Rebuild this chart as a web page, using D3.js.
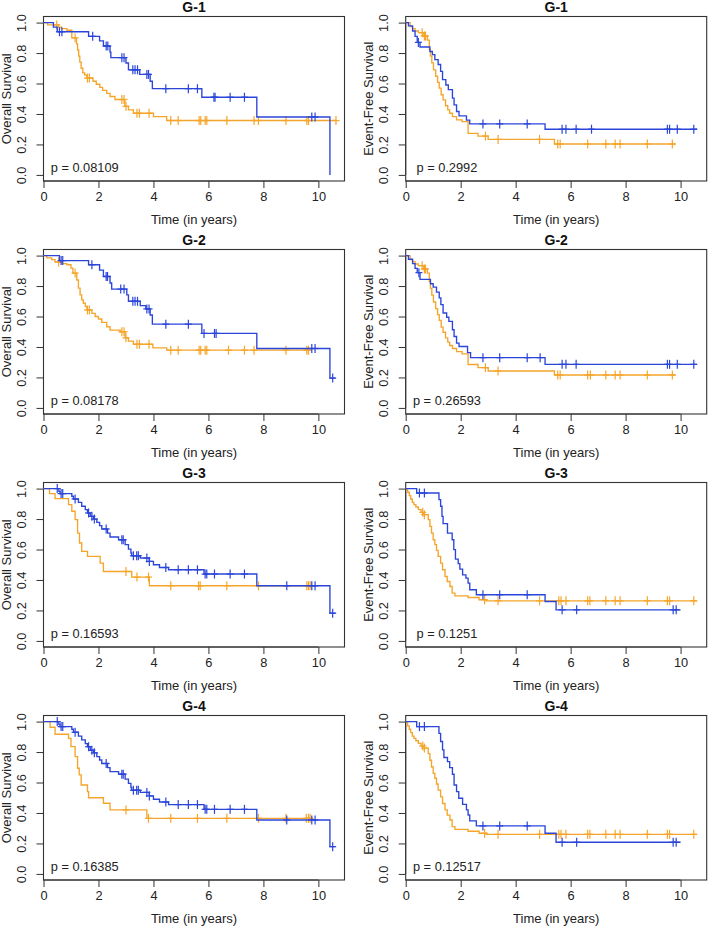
<!DOCTYPE html>
<html>
<head>
<meta charset="utf-8">
<script src="https://cdn.jsdelivr.net/npm/d3@7"></script>
<style>
  html, body { margin: 0; padding: 0; background: #ffffff; }
  svg { display: block; font-family: "Liberation Sans", Arial, Helvetica, sans-serif; }
</style>
</head>
<body>
<svg id="chart" width="708" height="927"></svg>
<script>
// ---------------- data ----------------
const panelTitles = ["G-1", "G-1", "G-2", "G-2", "G-3", "G-3", "G-4", "G-4"];
const yAxisTitles = ["Overall Survival", "Event-Free Survival"];
const xAxisTitle = "Time (in years)";
const pValues = ["0.08109", "0.2992", "0.08178", "0.26593", "0.16593", "0.1251", "0.16385", "0.12517"];
const xTicks = [0, 2, 4, 6, 8, 10];
const yTicks = [0.0, 0.2, 0.4, 0.6, 0.8, 1.0];

// step curves: [time, survival after the drop]; censor times; end time
const g1osBlue = [[0,1],[0.36,0.97],[0.5,0.94],[1.64,0.91],[2.04,0.88],[2.18,0.846],[2.42,0.806],[2.45,0.77],[3.0,0.735],[3.09,0.69],[3.5,0.66],[3.88,0.615],[3.96,0.566],[5.76,0.51],[7.76,0.38],[10.42,0.0]];
const g1osBlueCens = [0.58,0.67,1.79,2.28,2.34,2.85,2.93,3.25,3.33,3.42,3.76,3.82,4.45,5.27,5.6,6.2,6.24,6.79,7.31,9.76,9.88];
const g1osBlueEnd = 10.42;
const g1osOrange = [[0,1],[0.15,0.985],[0.55,0.97],[0.65,0.96],[0.85,0.95],[1.03,0.9],[1.2,0.86],[1.24,0.82],[1.28,0.78],[1.32,0.74],[1.37,0.70],[1.43,0.67],[1.5,0.655],[1.58,0.636],[1.8,0.615],[1.92,0.595],[2.05,0.575],[2.15,0.555],[2.3,0.535],[2.42,0.515],[2.6,0.495],[2.96,0.45],[3.09,0.427],[3.27,0.405],[4.0,0.383],[4.48,0.357]];
const g1osOrangeCens = [0.48,1.15,1.6,1.67,2.85,2.93,3.0,3.4,3.49,3.84,4.63,4.9,5.66,5.72,5.88,5.94,6.67,7.66,7.82,8.82,9.58,9.64,10.64];
const g1osOrangeEnd = 10.64;

const g1efsBlue = [[0,1],[0.1,0.978],[0.25,0.945],[0.34,0.91],[0.42,0.87],[0.52,0.84],[0.88,0.81],[0.97,0.79],[1.06,0.757],[1.18,0.725],[1.27,0.68],[1.34,0.626],[1.46,0.59],[1.55,0.56],[1.7,0.504],[1.76,0.46],[1.85,0.416],[1.94,0.388],[2.21,0.36],[2.33,0.335],[5.07,0.30]];
const g1efsBlueCens = [0.46,2.81,3.42,4.42,5.69,5.83,6.2,6.76,9.52,9.6,9.88,10.48];
const g1efsBlueEnd = 10.6;
const g1efsOrange = [[0,1],[0.16,0.974],[0.25,0.96],[0.34,0.945],[0.46,0.934],[0.66,0.912],[0.79,0.885],[0.86,0.824],[0.9,0.78],[0.95,0.736],[1.01,0.69],[1.09,0.648],[1.16,0.608],[1.22,0.57],[1.29,0.526],[1.36,0.493],[1.45,0.454],[1.53,0.427],[1.6,0.405],[1.7,0.383],[1.85,0.361],[2.05,0.35],[2.27,0.273],[2.63,0.255],[3.0,0.233],[5.41,0.203]];
const g1efsOrangeCens = [0.6,0.68,0.72,2.9,3.36,4.87,5.53,5.62,6.62,7.28,7.62,7.8,8.79,9.7];
const g1efsOrangeEnd = 9.82;

const g2osBlue = [[0,1],[0.58,0.967],[1.64,0.94],[2.04,0.905],[2.18,0.863],[2.42,0.82],[2.48,0.78],[3.03,0.742],[3.09,0.70],[3.52,0.672],[3.72,0.65],[3.88,0.61],[3.96,0.55],[5.76,0.489],[7.76,0.39],[10.42,0.196]];
const g2osBlueCens = [0.64,0.7,1.76,2.28,2.33,2.81,2.93,3.25,3.33,3.42,3.76,3.84,4.45,5.27,5.84,6.22,6.28,9.76,9.88,10.52];
const g2osBlueEnd = 10.62;
const g2osOrange = [[0,1],[0.12,0.985],[0.3,0.974],[0.42,0.958],[0.67,0.947],[0.85,0.94],[1.0,0.918],[1.07,0.885],[1.21,0.84],[1.27,0.786],[1.33,0.742],[1.39,0.709],[1.45,0.687],[1.52,0.665],[1.58,0.643],[1.76,0.621],[1.88,0.6],[2.0,0.584],[2.12,0.562],[2.3,0.533],[2.42,0.511],[2.79,0.5],[2.97,0.46],[3.09,0.438],[3.27,0.418],[3.98,0.394],[4.48,0.379]];
const g2osOrangeCens = [0.55,1.15,1.6,1.67,2.85,2.93,3.0,3.4,3.49,3.84,4.63,4.9,5.66,5.72,5.88,5.94,6.73,7.31,7.66,8.82,9.58,9.64];
const g2osOrangeEnd = 9.7;

const g2efsBlue = [[0,1],[0.1,0.976],[0.25,0.947],[0.34,0.916],[0.42,0.888],[0.52,0.844],[0.9,0.815],[1.0,0.793],[1.12,0.76],[1.22,0.722],[1.28,0.678],[1.36,0.623],[1.49,0.595],[1.57,0.568],[1.7,0.513],[1.76,0.469],[1.85,0.425],[1.94,0.403],[2.25,0.363],[2.36,0.33],[5.07,0.286]];
const g2efsBlueCens = [0.48,2.81,3.42,4.42,4.89,5.69,5.83,6.2,9.52,9.6,9.88,10.48];
const g2efsBlueEnd = 10.6;
const g2efsOrange = [[0,1],[0.16,0.974],[0.25,0.96],[0.34,0.945],[0.46,0.934],[0.66,0.912],[0.79,0.885],[0.86,0.83],[0.9,0.785],[0.95,0.74],[1.01,0.695],[1.09,0.652],[1.16,0.612],[1.22,0.575],[1.29,0.53],[1.36,0.497],[1.45,0.46],[1.53,0.432],[1.6,0.41],[1.7,0.39],[1.85,0.37],[2.05,0.355],[2.27,0.285],[2.63,0.264],[3.0,0.242],[5.41,0.216]];
const g2efsOrangeCens = [0.6,0.68,0.72,2.9,3.36,5.53,5.62,6.62,6.72,7.28,7.62,7.8,8.79,9.7];
const g2efsOrangeEnd = 9.82;

const g3osBlue = [[0,1],[0.56,0.982],[0.6,0.967],[1.03,0.95],[1.09,0.932],[1.27,0.91],[1.39,0.884],[1.52,0.862],[1.6,0.84],[1.7,0.818],[1.82,0.8],[1.94,0.778],[2.04,0.757],[2.12,0.735],[2.33,0.708],[2.42,0.682],[2.73,0.664],[2.97,0.632],[3.09,0.603],[3.18,0.577],[3.21,0.559],[3.52,0.544],[3.85,0.522],[4.0,0.5],[4.22,0.482],[4.55,0.467],[5.84,0.439],[7.76,0.362],[10.42,0.182]];
const g3osBlueCens = [0.5,0.64,0.7,1.15,1.64,1.76,1.85,2.28,2.85,2.9,3.27,3.39,3.45,3.76,3.85,4.45,4.9,5.27,5.6,5.88,5.94,6.22,6.79,7.31,8.85,9.76,9.88,10.52];
const g3osBlueEnd = 10.62;
const g3osOrange = [[0,1],[0.22,0.967],[0.42,0.934],[0.91,0.895],[1.03,0.851],[1.15,0.796],[1.24,0.708],[1.31,0.643],[1.39,0.588],[1.6,0.555],[2.06,0.511],[2.18,0.456],[3.21,0.419],[3.85,0.362]];
const g3osOrangeCens = [3.0,3.4,3.82,4.63,5.64,5.7,6.67,7.82,9.58,9.64,9.7];
const g3osOrangeEnd = 9.7;

const g3efsBlue = [[0,1],[0.4,0.971],[1.21,0.928],[1.27,0.884],[1.32,0.818],[1.36,0.77],[1.52,0.708],[1.69,0.664],[1.75,0.599],[1.81,0.537],[1.91,0.507],[1.97,0.471],[2.07,0.434],[2.19,0.412],[2.27,0.379],[2.33,0.336],[2.57,0.303],[5.07,0.259],[5.47,0.204]];
const g3efsBlueCens = [0.5,0.68,2.81,3.42,4.42,5.69,6.22,9.73,9.84];
const g3efsBlueEnd = 10.0;
const g3efsOrange = [[0,1],[0.07,0.976],[0.13,0.954],[0.18,0.932],[0.24,0.91],[0.3,0.895],[0.37,0.879],[0.46,0.862],[0.56,0.844],[0.64,0.829],[0.82,0.796],[0.88,0.752],[0.94,0.708],[1.0,0.664],[1.06,0.632],[1.12,0.594],[1.18,0.555],[1.27,0.511],[1.34,0.467],[1.43,0.423],[1.51,0.39],[1.61,0.357],[1.69,0.314],[1.79,0.296],[2.27,0.285],[2.67,0.27],[2.93,0.263]];
const g3efsOrangeCens = [0.62,0.68,2.87,3.36,4.87,5.57,5.65,5.83,6.62,6.7,7.28,7.62,7.8,8.79,9.52,9.6,10.48];
const g3efsOrangeEnd = 10.6;

const g4osBlue = [[0,1],[0.56,0.982],[0.6,0.967],[1.03,0.95],[1.09,0.93],[1.27,0.905],[1.39,0.88],[1.52,0.855],[1.6,0.835],[1.7,0.812],[1.82,0.795],[1.94,0.77],[2.04,0.748],[2.12,0.725],[2.33,0.698],[2.42,0.672],[2.73,0.655],[2.97,0.622],[3.09,0.594],[3.18,0.567],[3.21,0.549],[3.52,0.535],[3.85,0.512],[4.0,0.49],[4.22,0.472],[4.55,0.455],[5.84,0.424],[7.76,0.354],[10.42,0.179]];
const g4osBlueCens = [0.5,0.64,0.7,1.15,1.64,1.76,1.85,2.28,2.85,2.9,3.27,3.39,3.45,3.76,3.85,4.45,4.9,5.27,5.6,5.88,5.94,6.22,6.79,7.31,8.85,9.76,9.88,10.52];
const g4osBlueEnd = 10.62;
const g4osOrange = [[0,1],[0.24,0.963],[0.42,0.917],[0.91,0.89],[1.0,0.836],[1.15,0.77],[1.24,0.694],[1.3,0.65],[1.37,0.584],[1.6,0.54],[1.64,0.5],[2.18,0.464],[2.42,0.42],[3.76,0.365]];
const g4osOrangeCens = [3.0,3.82,4.63,5.6,6.67,7.82,8.82,9.56,9.64,9.7];
const g4osOrangeEnd = 9.7;

const g4efsBlue = [[0,1],[0.4,0.967],[1.21,0.923],[1.27,0.869],[1.34,0.814],[1.39,0.764],[1.52,0.737],[1.6,0.698],[1.7,0.654],[1.76,0.584],[1.85,0.54],[1.93,0.497],[2.07,0.457],[2.21,0.42],[2.27,0.387],[2.33,0.348],[2.57,0.315],[5.07,0.267],[5.47,0.208]];
const g4efsBlueCens = [0.5,0.68,2.81,3.42,4.42,5.69,6.22,9.73,9.84];
const g4efsBlueEnd = 10.0;
const g4efsOrange = [[0,1],[0.07,0.972],[0.13,0.95],[0.18,0.928],[0.24,0.905],[0.3,0.89],[0.37,0.874],[0.46,0.857],[0.56,0.84],[0.64,0.826],[0.82,0.79],[0.88,0.746],[0.94,0.702],[1.0,0.66],[1.06,0.628],[1.12,0.59],[1.18,0.55],[1.27,0.506],[1.34,0.462],[1.43,0.42],[1.51,0.386],[1.61,0.354],[1.69,0.31],[1.79,0.292],[2.27,0.28],[2.67,0.267],[2.93,0.26]];
const g4efsOrangeCens = [0.62,0.68,2.87,3.36,4.87,5.57,5.65,5.83,6.62,6.7,7.28,7.62,7.8,8.79,9.52,9.6,10.48];
const g4efsOrangeEnd = 10.6;

const panelCurves = [
  [{steps: g1osOrange, cens: g1osOrangeCens, end: g1osOrangeEnd, grp: 1}, {steps: g1osBlue, cens: g1osBlueCens, end: g1osBlueEnd, grp: 0}],
  [{steps: g1efsOrange, cens: g1efsOrangeCens, end: g1efsOrangeEnd, grp: 1}, {steps: g1efsBlue, cens: g1efsBlueCens, end: g1efsBlueEnd, grp: 0}],
  [{steps: g2osOrange, cens: g2osOrangeCens, end: g2osOrangeEnd, grp: 1}, {steps: g2osBlue, cens: g2osBlueCens, end: g2osBlueEnd, grp: 0}],
  [{steps: g2efsOrange, cens: g2efsOrangeCens, end: g2efsOrangeEnd, grp: 1}, {steps: g2efsBlue, cens: g2efsBlueCens, end: g2efsBlueEnd, grp: 0}],
  [{steps: g3osOrange, cens: g3osOrangeCens, end: g3osOrangeEnd, grp: 1}, {steps: g3osBlue, cens: g3osBlueCens, end: g3osBlueEnd, grp: 0}],
  [{steps: g3efsOrange, cens: g3efsOrangeCens, end: g3efsOrangeEnd, grp: 1}, {steps: g3efsBlue, cens: g3efsBlueCens, end: g3efsBlueEnd, grp: 0}],
  [{steps: g4osOrange, cens: g4osOrangeCens, end: g4osOrangeEnd, grp: 1}, {steps: g4osBlue, cens: g4osBlueCens, end: g4osBlueEnd, grp: 0}],
  [{steps: g4efsOrange, cens: g4efsOrangeCens, end: g4efsOrangeEnd, grp: 1}, {steps: g4efsBlue, cens: g4efsBlueCens, end: g4efsBlueEnd, grp: 0}]
];

// ---------------- layout / style ----------------
const groupColors = ["#2b45d9", "#f5a52a"];
const colLeft = [43.5, 405.7];
const boxW = 301;
const rowTop = [16.5, 249.5, 482.5, 715.5];
const boxH = 164.5;
const xDomain = [0, 10.95];
const yDomain = [-0.04, 1.04];
const axisColor = "#333333";

const svg = d3.select("#chart");

function survAt(steps, t) {
  let s = steps[0][1];
  for (const [tt, v] of steps) { if (tt <= t) s = v; else break; }
  return s;
}

panelTitles.forEach((title, i) => {
  const col = i % 2, row = Math.floor(i / 2);
  const left = colLeft[col], top = rowTop[row];
  const x = d3.scaleLinear().domain(xDomain).range([left, left + boxW]);
  const y = d3.scaleLinear().domain(yDomain).range([top + boxH, top]);
  const g = svg.append("g");

  // box
  g.append("rect").attr("x", left).attr("y", top).attr("width", boxW).attr("height", boxH)
    .attr("fill", "none").attr("stroke", axisColor).attr("stroke-width", 1.1);

  // x axis
  const xAxis = d3.axisBottom(x).tickValues(xTicks).tickSize(7).tickPadding(4).tickFormat(d3.format("d"));
  const gx = g.append("g").attr("transform", `translate(0,${top + boxH})`).call(xAxis);
  gx.select(".domain").attr("d", `M${x(0)},0H${x(10)}`).attr("stroke", axisColor);
  gx.selectAll(".tick line").attr("stroke", axisColor);
  gx.selectAll(".tick text").attr("fill", "#222").style("font-size", "12.8px")
    .style("font-family", "'Liberation Sans', Arial, sans-serif");

  // y axis
  const yAxis = d3.axisLeft(y).tickValues(yTicks).tickSize(7).tickFormat(d3.format(".1f"));
  const gy = g.append("g").attr("transform", `translate(${left},0)`).call(yAxis);
  gy.select(".domain").attr("d", `M0,${y(0)}V${y(1)}`).attr("stroke", axisColor);
  gy.selectAll(".tick line").attr("stroke", axisColor);
  gy.selectAll(".tick text")
    .attr("x", null).attr("dy", null)
    .attr("transform", "translate(-22,0) rotate(-90)")
    .attr("text-anchor", "middle").attr("dominant-baseline", "central")
    .attr("fill", "#222").style("font-size", "12.8px")
    .style("font-family", "'Liberation Sans', Arial, sans-serif");

  // titles
  g.append("text").attr("x", left + boxW / 2).attr("y", top - 4.5)
    .attr("text-anchor", "middle").attr("font-weight", "bold").attr("font-size", 14)
    .attr("fill", "#111").text(title);
  g.append("text").attr("x", left + boxW / 2).attr("y", top + boxH + 43)
    .attr("text-anchor", "middle").attr("font-size", 13).attr("fill", "#222").text(xAxisTitle);
  g.append("text")
    .attr("transform", `translate(${left - 32.3},${top + boxH / 2}) rotate(-90)`)
    .attr("text-anchor", "middle").attr("font-size", 13).attr("fill", "#222").text(yAxisTitles[col]);

  // p value
  g.append("text").attr("x", x(1.5)).attr("y", y(0.05)).attr("dominant-baseline", "central")
    .attr("text-anchor", "middle").attr("font-size", 12.8).attr("fill", "#222")
    .text("p = " + pValues[i]);

  // curves
  const line = d3.line().x(d => x(d[0])).y(d => y(d[1])).curve(d3.curveStepAfter);
  panelCurves[i].forEach(c => {
    const pts = c.steps.concat([[c.end, c.steps[c.steps.length - 1][1]]]);
    const color = groupColors[c.grp];
    g.append("path").datum(pts).attr("d", line).attr("fill", "none")
      .attr("stroke", color).attr("stroke-width", 1.35);
    const marks = g.append("g").attr("stroke", color).attr("stroke-width", 1.2);
    c.cens.forEach(t => {
      const cx = x(t), cy = y(survAt(c.steps, t));
      marks.append("line").attr("x1", cx).attr("x2", cx).attr("y1", cy - 4.5).attr("y2", cy + 4.5);
      marks.append("line").attr("x1", cx - 3.5).attr("x2", cx + 3.5).attr("y1", cy).attr("y2", cy);
    });
  });
});
</script>
</body>
</html>
